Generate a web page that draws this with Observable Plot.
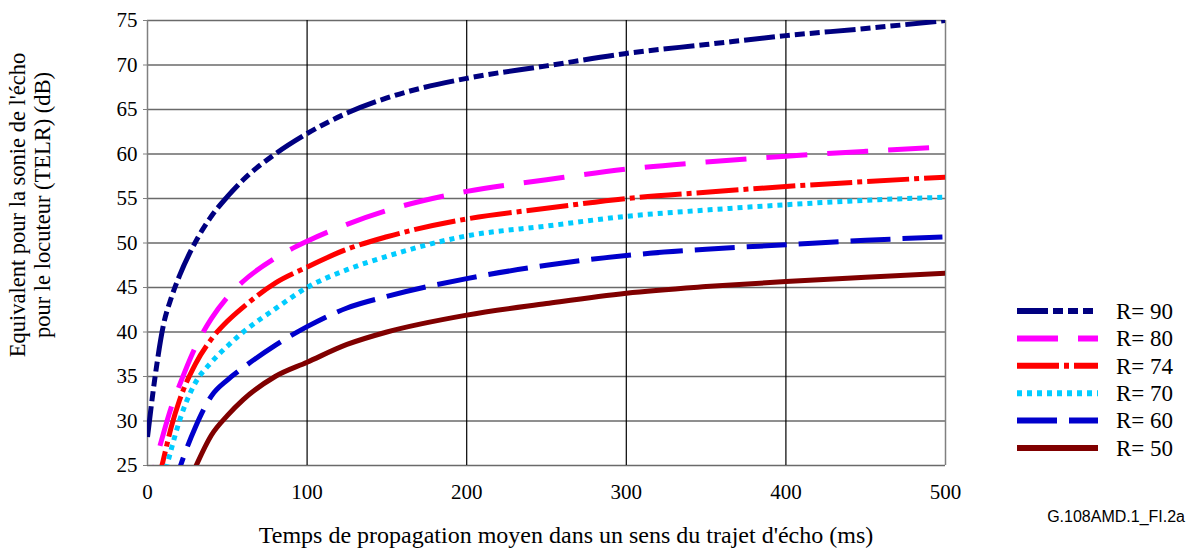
<!DOCTYPE html>
<html>
<head>
<meta charset="utf-8">
<script src="https://cdn.jsdelivr.net/npm/d3@7"></script>
<script src="https://cdn.jsdelivr.net/npm/@observablehq/plot@0.6"></script>
<style>
  html, body { margin: 0; padding: 0; background: #fff; }
  #chart { width: 1196px; height: 551px; }
  #chart svg text { font-family: 'Liberation Serif', 'Times New Roman', Times, serif; font-size: 21px; fill: #000; }
  #chart svg text.xlabel { font-size: 24px; }
  #chart svg text.ylabel { font-size: 22.5px; }
  #chart svg text.legend { font-size: 23px; }
  #chart svg text.caption { font-family: 'Liberation Sans', Arial, sans-serif; font-size: 16px; }
</style>
</head>
<body>
<div id="chart"></div>
<script>
// ---- data ----
const delays = [0, 5, 10, 15, 20, 30, 40, 50, 60, 80, 100, 125, 150, 200, 250, 300, 350, 400, 450, 500];
const r90 = [28.2, 35.3, 40.8, 43.9, 46.3, 50.1, 53.0, 55.2, 57.1, 60.0, 62.3, 64.6, 66.3, 68.5, 69.9, 71.3, 72.3, 73.3, 74.1, 75.0];
const r80 = [20.5, 25.2, 28.6, 31.6, 34.0, 38.3, 41.5, 43.9, 45.7, 48.3, 50.2, 52.1, 53.65, 55.8, 57.1, 58.3, 59.1, 59.75, 60.3, 60.8];
const r74 = [null, 22.0, 25.7, 29.4, 32.3, 36.4, 39.2, 41.2, 42.8, 45.5, 47.3, 49.3, 50.7, 52.7, 53.9, 55.0, 55.7, 56.35, 56.9, 57.4];
const r70 = [null, null, 23.5, 26.9, 30.0, 34.3, 36.6, 38.4, 40.0, 42.6, 45.0, 47.0, 48.5, 50.8, 51.9, 53.0, 53.7, 54.3, 54.8, 55.15];
const r60 = [null, null, null, 21.6, 24.6, 29.3, 32.8, 34.6, 36.0, 38.5, 40.6, 42.7, 44.0, 46.0, 47.5, 48.6, 49.3, 49.8, 50.3, 50.7];
const r50 = [null, null, null, null, null, 24.8, 28.4, 30.6, 32.4, 35.0, 36.6, 38.6, 40.0, 41.9, 43.2, 44.36, 45.1, 45.67, 46.15, 46.6];

const seriesNames = ["R= 90", "R= 80", "R= 74", "R= 70", "R= 60", "R= 50"];
const seriesValues = [r90, r80, r74, r70, r60, r50];
const seriesColors = ["#000080", "#ff00ff", "#ff0000", "#00ccff", "#0000cc", "#800000"];
const seriesDash = ["31,5,10,5,10,5,10,5", "41,20", "42,5,5,5", "5,5", "40,12", null];

const xTicks = [0, 100, 200, 300, 400, 500];
const yTicks = [25, 30, 35, 40, 45, 50, 55, 60, 65, 70, 75];

const xLabel = "Temps de propagation moyen dans un sens du trajet d'écho (ms)";
const yLabel1 = "Equivalent pour la sonie de l'écho";
const yLabel2 = "pour le locuteur (TELR) (dB)";
const caption = "G.108AMD.1_FI.2a";

// ---- build rows ----
const rows = [];
seriesNames.forEach((name, i) => {
  delays.forEach((d, j) => {
    rows.push({series: name, delay: d, telr: seriesValues[i][j]});
  });
});

const serif = "'Liberation Serif', 'Times New Roman', Times, serif";

const lineMarks = seriesNames.map((name, i) =>
  Plot.line(rows.filter(r => r.series === name), {
    x: "delay", y: "telr",
    defined: d => d.telr != null,
    stroke: seriesColors[i],
    strokeWidth: 5,
    strokeDasharray: seriesDash[i] || undefined,
    strokeLinecap: "butt",
    curve: "monotone-x",
    clip: true
  })
);

const plot = Plot.plot({
  width: 1196,
  height: 551,
  marginLeft: 147,
  marginRight: 251,
  marginTop: 20,
  marginBottom: 86,
  style: {fontFamily: serif, fontSize: "21px", color: "#000", background: "#fff"},
  x: {domain: [0, 500]},
  y: {domain: [25, 75]},
  marks: [
    Plot.ruleY(yTicks, {stroke: "#6a6a6a", strokeWidth: 1.5}),
    Plot.ruleX(xTicks.filter(t => t > 0 && t < 500), {stroke: "#000", strokeWidth: 1.2}),
    Plot.ruleX([0, 500], {stroke: "#808080", strokeWidth: 1.5}),
    Plot.axisY({ticks: yTicks, tickSize: 4, tickPadding: 6, stroke: "#808080", label: null, fontFamily: serif, fontSize: 21, tickFormat: d => String(d)}),
    Plot.axisX({ticks: xTicks, tickSize: 0, tickPadding: 19, label: null, fontFamily: serif, fontSize: 21, tickFormat: d => String(d)}),
    ...lineMarks
  ]
});

document.getElementById("chart").appendChild(plot);

// ---- axis titles, legend and caption ----
const svg = d3.select(plot);

svg.append("text")
  .attr("class", "ylabel")
  .attr("transform", "translate(25,205) rotate(-90)")
  .attr("text-anchor", "middle")
  .text(yLabel1);
svg.append("text")
  .attr("class", "ylabel")
  .attr("transform", "translate(50,205) rotate(-90)")
  .attr("text-anchor", "middle")
  .text(yLabel2);

svg.append("text")
  .attr("class", "xlabel")
  .attr("x", 566).attr("y", 543)
  .attr("text-anchor", "middle")
  .text(xLabel);

svg.append("text")
  .attr("class", "caption")
  .attr("x", 1185).attr("y", 522)
  .attr("text-anchor", "end")
  .text(caption);

const legend = svg.append("g");
seriesNames.forEach((name, i) => {
  const cy = 311 + i * 27.4;
  legend.append("line")
    .attr("x1", 1017).attr("x2", 1098)
    .attr("y1", cy).attr("y2", cy)
    .attr("stroke", seriesColors[i])
    .attr("stroke-width", 6)
    .attr("stroke-dasharray", seriesDash[i] || null);
  legend.append("text")
    .attr("class", "legend")
    .attr("x", 1116).attr("y", cy)
    .attr("dy", "0.34em")
    .attr("text-anchor", "start")
    .text(name);
});
</script>
</body>
</html>
